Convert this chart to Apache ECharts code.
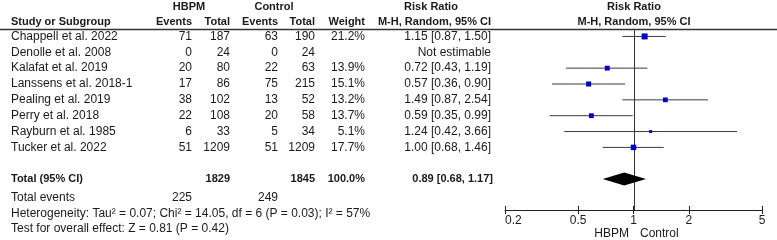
<!DOCTYPE html>
<html><head><meta charset="utf-8">
<script src="https://cdn.jsdelivr.net/npm/echarts@6/dist/echarts.min.js"></script>
<style>html,body{margin:0;padding:0;background:#fff}#c{width:777px;height:240px}</style>
</head><body><div id="c"></div>
<script>
const studies = ['Chappell et al. 2022','Denolle et al. 2008','Kalafat et al. 2019','Lanssens et al. 2018-1','Pealing et al. 2019','Perry et al. 2018','Rayburn et al. 1985','Tucker et al. 2022'];
const hbpmEvents = [71,0,20,17,38,22,6,51];
const hbpmTotal = [187,24,80,86,102,108,33,1209];
const ctrlEvents = [63,0,22,75,13,20,5,51];
const ctrlTotal = [190,24,63,215,52,58,34,1209];
const weights = [21.2,null,13.9,15.1,13.2,13.7,5.1,17.7];
const rr = [1.15,null,0.72,0.57,1.49,0.59,1.24,1.00];
const rrLo = [0.87,null,0.43,0.36,0.87,0.35,0.42,0.68];
const rrHi = [1.50,null,1.19,0.90,2.54,0.99,3.66,1.46];
const totalHbpm = 1829, totalCtrl = 1845, totalWeight = 100.0;
const totalEventsHbpm = 225, totalEventsCtrl = 249;
const totalRR = 0.89, totalLo = 0.68, totalHi = 1.17;
const heterogeneity = 'Heterogeneity: Tau² = 0.07; Chi² = 14.05, df = 6 (P = 0.03); I² = 57%';
const overallTest = 'Test for overall effect: Z = 0.81 (P = 0.42)';
const tickLabels = [0.2,0.5,1,2,5];

const FONT = '"Liberation Sans", Arial, sans-serif';
const TXT = '#1a1a1a';
const L = Math.log10;
const colX = {study:11, he:192, ht:230, ce:278, ct:315, w:365, rr:491};
const TOTAL_ROW = 9;
const Y_MIN = -0.47, Y_MAX = 10.95;

function fmtRR(r,l,h){ return r==null ? 'Not estimable' : r.toFixed(2)+' ['+l.toFixed(2)+', '+h.toFixed(2)+']'; }

function txt(x,y,text,align,bold){
  return {type:'text', style:{x:x,y:y,text:String(text),textAlign:align||'left',textVerticalAlign:'middle',
    fill:TXT,font:bold?('bold 11px '+FONT):('12px '+FONT)}};
}

const tableData = studies.map((s,i)=>[0,i]);
tableData.push([0,TOTAL_ROW],[0,10.2],[0,11.2],[0,12.15]);

function renderTable(params, api){
  const i = params.dataIndex;
  const y = api.coord([0, api.value(1)])[1];
  const ch = [];
  if (i < studies.length){
    ch.push(txt(colX.study,y,studies[i]));
    ch.push(txt(colX.he,y,hbpmEvents[i],'right'));
    ch.push(txt(colX.ht,y,hbpmTotal[i],'right'));
    ch.push(txt(colX.ce,y,ctrlEvents[i],'right'));
    ch.push(txt(colX.ct,y,ctrlTotal[i],'right'));
    if (weights[i]!=null) ch.push(txt(colX.w,y,weights[i].toFixed(1)+'%','right'));
    ch.push(txt(colX.rr,y,fmtRR(rr[i],rrLo[i],rrHi[i]),'right'));
  } else if (i === studies.length){
    ch.push(txt(colX.study,y,'Total (95% CI)','left',true));
    ch.push(txt(colX.ht,y,totalHbpm,'right',true));
    ch.push(txt(colX.ct,y,totalCtrl,'right',true));
    ch.push(txt(colX.w,y,totalWeight.toFixed(1)+'%','right',true));
    ch.push(txt(colX.rr+2,y,fmtRR(totalRR,totalLo,totalHi),'right',true));
  } else if (i === studies.length+1){
    ch.push(txt(colX.study,y,'Total events'));
    ch.push(txt(colX.he,y,totalEventsHbpm,'right'));
    ch.push(txt(colX.ce,y,totalEventsCtrl,'right'));
  } else if (i === studies.length+2){
    ch.push(txt(colX.study,y,heterogeneity));
  } else {
    ch.push(txt(colX.study,y,overallTest));
  }
  return {type:'group', children:ch};
}

const ciData = studies.map((s,i)=>rr[i]==null?null:[L(rr[i]), i, L(rrLo[i]), L(rrHi[i]), weights[i]]).filter(d=>d);

function renderCI(params, api){
  const c = api.coord([api.value(0), api.value(1)]);
  const a = api.coord([api.value(2), api.value(1)]);
  const b = api.coord([api.value(3), api.value(1)]);
  const s = 6*Math.sqrt(api.value(4)/21.2);
  return {type:'group', children:[
    {type:'line', shape:{x1:a[0],y1:a[1],x2:b[0],y2:b[1]}, style:{stroke:'#3a3a3a',lineWidth:1}},
    {type:'rect', shape:{x:c[0]-s/2,y:c[1]-s/2,width:s,height:s}, style:{fill:'#0000d0'}}
  ]};
}

function renderDiamond(params, api){
  const r = api.value(1);
  const c = api.coord([api.value(0), r]);
  const a = api.coord([api.value(2), r]);
  const b = api.coord([api.value(3), r]);
  const h = 6.5;
  return {type:'polygon', shape:{points:[[a[0],c[1]],[c[0],c[1]-h],[b[0],c[1]],[c[0],c[1]+h]]}, style:{fill:'#000'}};
}

function renderNullLine(params, api){
  const a = api.coord([api.value(0), api.value(1)]);
  const b = api.coord([api.value(0), api.value(2)]);
  return {type:'line', shape:{x1:Math.round(a[0])+0.5,y1:a[1],x2:Math.round(b[0])+0.5,y2:b[1]}, style:{stroke:'#333',lineWidth:1}};
}

const xMin = L(tickLabels[0]), xMax = L(tickLabels[tickLabels.length-1]);
const tickVals = tickLabels.map(L);
function lab(v){ let best=tickLabels[0]; let d=1e9; tickLabels.forEach(t=>{const dd=Math.abs(L(t)-v); if(dd<d){d=dd;best=t;}}); return String(best); }

const chart = echarts.init(document.getElementById('c'), null, {renderer:'canvas'});
chart.setOption({
  animation:false,
  backgroundColor:'#fff',
  grid:{left:505, right:15, top:29, height:181},
  xAxis:[
    {type:'value', min:xMin, max:xMax, position:'bottom',
     axisLine:{show:true,onZero:false,lineStyle:{color:'#222',width:1}},
     axisTick:{show:true,inside:false,length:4,customValues:tickVals,lineStyle:{color:'#222'}},
     axisLabel:{show:true,customValues:tickVals,formatter:lab,color:TXT,fontFamily:FONT,fontSize:12,margin:5,alignMinLabel:'left'},
     splitLine:{show:false}},
    {type:'value', min:xMin, max:xMax, position:'bottom', offset:0,
     axisLine:{show:false,onZero:false},
     axisTick:{show:true,inside:true,length:4,customValues:tickVals,lineStyle:{color:'#222'}},
     axisLabel:{show:false}, splitLine:{show:false}}
  ],
  yAxis:{type:'value', inverse:true, min:Y_MIN, max:Y_MAX, show:false, axisLine:{onZero:false}},
  graphic:[
    {type:'line', shape:{x1:0,y1:29.5,x2:777,y2:29.5}, style:{stroke:'#333',lineWidth:1.3}},
    txt(11,22,'Study or Subgroup','left',true),
    txt(189,7,'HBPM','center',true),
    txt(274,7,'Control','center',true),
    txt(192,22,'Events','right',true),
    txt(230,22,'Total','right',true),
    txt(278,22,'Events','right',true),
    txt(315,22,'Total','right',true),
    txt(365,22,'Weight','right',true),
    txt(431,7,'Risk Ratio','center',true),
    txt(491,22,'M-H, Random, 95% CI','right',true),
    txt(634,7,'Risk Ratio','center',true),
    txt(634,22,'M-H, Random, 95% CI','center',true),
    txt(629,234,'HBPM','right'),
    txt(640,234,'Control','left')
  ],
  series:[
    {type:'custom', renderItem:renderNullLine, data:[[0,Y_MIN,Y_MAX]], clip:false, silent:true},
    {type:'custom', renderItem:renderCI, data:ciData, clip:false, silent:true},
    {type:'custom', renderItem:renderDiamond, data:[[L(totalRR),TOTAL_ROW,L(totalLo),L(totalHi)]], silent:true},
    {type:'custom', renderItem:renderTable, data:tableData, clip:false, silent:true, encode:{x:0,y:1}}
  ]
});
</script></body></html>
